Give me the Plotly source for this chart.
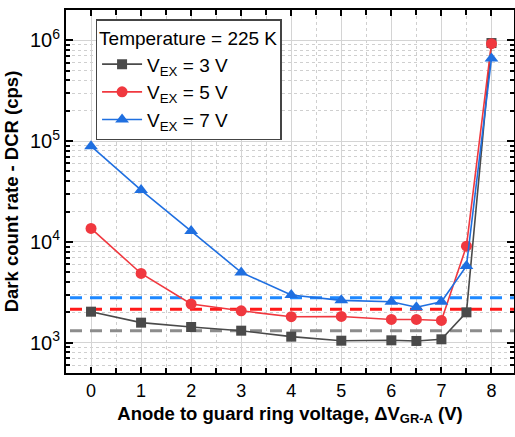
import plotly.graph_objects as go

x_vals = [0, 1, 2, 3, 4, 5, 6, 6.5, 7, 7.5, 8]
dcr_3v = [2030, 1580, 1430, 1315, 1147, 1046, 1055, 1040, 1080, 2000, 940000]
dcr_5v = [13600, 4860, 2420, 2070, 1810, 1820, 1700, 1700, 1660, 9070, 927000]
dcr_7v = [89000, 32700, 12800, 4980, 2970, 2630, 2550, 2250, 2550, 5780, 660000]
floating = {"3": 1315, "5": 2140, "7": 2790}
float_x = [-0.42, 8.45]
x_major = [0, 1, 2, 3, 4, 5, 6, 7, 8]
x_minor = [-0.5, 0.5, 1.5, 2.5, 3.5, 4.5, 5.5, 6.5, 7.5]
y_major = [1e3, 1e4, 1e5, 1e6]
y_labels = ["10<sup>3</sup>", "10<sup>4</sup>", "10<sup>5</sup>", "10<sup>6</sup>"]
y_minor = [m * 10 ** e for e in range(2, 7) for m in range(2, 10) if 500 <= m * 10 ** e <= 2e6]

c3, c5, c7 = "#4a4a4a", "#f0383f", "#1f6fe0"
f3, f5, f7 = "#8c8c8c", "#ff1a1a", "#1e88ff"
FONT = "Liberation Sans, Arial"

fig = go.Figure()
for key, col in [("7", f7), ("5", f5), ("3", f3)]:
    fig.add_trace(go.Scatter(x=float_x, y=[floating[key]] * 2, mode="lines",
                             line=dict(color=col, width=3, dash="12px,8px"),
                             showlegend=False, hoverinfo="skip"))

series = [
    ("V<sub>EX</sub> = 3 V", dcr_3v, c3, "square", 10),
    ("V<sub>EX</sub> = 5 V", dcr_5v, c5, "circle", 11),
    ("V<sub>EX</sub> = 7 V", dcr_7v, c7, "triangle-up", 12),
]
for name, ys, col, sym, sz in series:
    fig.add_trace(go.Scatter(x=x_vals, y=ys, mode="lines+markers", name=name,
                             line=dict(color=col, width=1.6),
                             marker=dict(color=col, symbol=sym, size=sz)))

for key, col in [("7", f7), ("5", f5), ("3", f3)]:
    fig.add_annotation(x=-0.45, y=floating[key], xref="x", yref="y", text="<b>FLOATING</b>",
                       showarrow=False, xanchor="left", yanchor="bottom", yshift=-1,
                       font=dict(size=9, color=col, family=FONT))

fig.update_layout(
    width=515, height=437,
    margin=dict(l=66, r=1, t=10, b=64, autoexpand=False),
    paper_bgcolor="white", plot_bgcolor="white",
    font=dict(family=FONT, size=16, color="black"),
    legend=dict(x=0.066, y=0.975, xanchor="left", yanchor="top",
                bgcolor="white", bordercolor="#444", borderwidth=1.5,
                font=dict(size=19), title=dict(text="Temperature = 225 K", font=dict(size=19)),
                tracegroupgap=0, itemwidth=40),
)
fig.update_xaxes(
    range=[-0.5, 8.45], tickvals=x_major, automargin=False,
    ticks="inside", ticklen=6, tickwidth=1.5, tickcolor="black",
    showline=True, linecolor="black", linewidth=2, mirror="ticks",
    showgrid=True, gridcolor="#d4d4d4", gridwidth=1.2,
    minor=dict(tickvals=x_minor, ticks="inside", ticklen=5, tickcolor="black", showgrid=True,
               gridcolor="#cfcfcf", griddash="dot", gridwidth=1),
    title=dict(text="<b>Anode to guard ring voltage, ΔV<sub>GR-A</sub> (V)</b>", font=dict(size=18.5), standoff=7),
    tickfont=dict(size=18), zeroline=False,
)
fig.update_yaxes(
    type="log", range=[2.699, 6.301], automargin=False,
    tickvals=y_major, ticktext=y_labels,
    ticks="inside", ticklen=7, tickwidth=1.5, tickcolor="black",
    showline=True, linecolor="black", linewidth=2, mirror="ticks",
    showgrid=True, gridcolor="#d4d4d4", gridwidth=1.2,
    minor=dict(tickvals=y_minor, ticks="inside", ticklen=4, tickcolor="black", showgrid=True,
               gridcolor="#cfcfcf", griddash="dot", gridwidth=1),
    title=dict(text="<b>Dark count rate - DCR (cps)</b>", font=dict(size=18.5), standoff=6),
    tickfont=dict(size=20),
)

fig.write_html("out.html", config={"displayModeBar": False},
               post_script="document.body.style.margin='0';")
